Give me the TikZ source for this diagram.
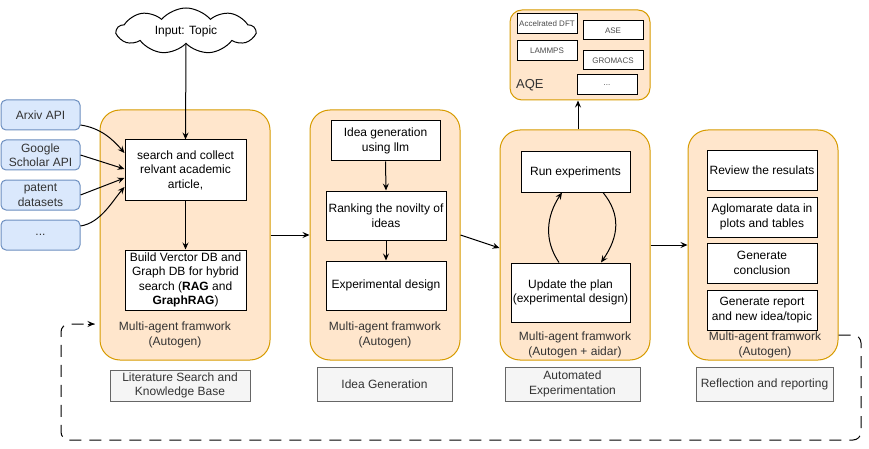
\documentclass[tikz,border=0pt]{standalone}
\usepackage{fontspec}
\setmainfont{Liberation Sans}
\usetikzlibrary{shapes.symbols,arrows.meta,calc}
\definecolor{orfill}{HTML}{FFE6CC}
\definecolor{orline}{HTML}{D79B00}
\definecolor{blfill}{HTML}{DAE8FC}
\definecolor{blline}{HTML}{6C8EBF}
\definecolor{grfill}{HTML}{F5F5F5}
\definecolor{grline}{HTML}{666666}
\definecolor{txtgray}{HTML}{333333}
\tikzset{
 every node/.style={font=\fontsize{12}{14.5}\selectfont, inner sep=1pt, align=center},
 container/.style={draw=orline, fill=orfill, rounded corners=20pt, line width=1pt},
 api/.style={draw=blline, fill=blfill, rounded corners=5pt, line width=1pt, text=txtgray, minimum width=79pt, minimum height=30pt},
 stepbox/.style={draw=black, fill=white, line width=1pt},
 tool/.style={draw=black, fill=white, line width=1pt, font=\fontsize{8}{10}\selectfont, text=black!70, minimum width=60pt},
 phase/.style={draw=grline, fill=grfill, line width=1pt, text=txtgray},
 lab/.style={text=txtgray},
 arr/.style={-{Stealth[length=7pt,width=6pt,inset=2.5pt]}, line width=1pt},
}
\begin{document}
\begin{tikzpicture}[x=1pt,y=-1pt]
\useasboundingbox (0,0) rectangle (869,449);
% containers
\node[container, minimum width=170pt, minimum height=250pt] (c1) at (185,235) {};
\node[container, minimum width=150pt, minimum height=250pt] (c2) at (385,235) {};
\node[container, minimum width=150pt, minimum height=230pt] (c3) at (575,245) {};
\node[container, minimum width=150pt, minimum height=230pt] (c4) at (763,245) {};
\node[container, rounded corners=12pt, minimum width=140pt, minimum height=90pt] (aqe) at (580,55) {};
% cloud
\node[cloud, cloud puffs=9, cloud puff arc=100, aspect=3.2, draw, fill=white, line width=1pt, minimum width=138pt, minimum height=46pt, inner sep=0pt] (cloud) at (186,31) {Input: Topic};
% APIs
\node[api] (api1) at (40.5,115) {Arxiv API};
\node[api] (api2) at (40.5,155) {Google\\Scholar API};
\node[api] (api3) at (40.5,195) {patent\\datasets};
\node[api] (api4) at (40.5,235) {...};
% container 1
\node[stepbox, minimum width=121pt, minimum height=60pt] (search) at (185.5,170) {search and collect\\relvant academic\\article,};
\node[stepbox, minimum width=121pt, minimum height=60pt] (build) at (185.5,280) {Build Verctor DB and\\Graph DB for hybrid\\search (\textbf{RAG} and\\\textbf{GraphRAG})};
\node[lab] (lab1) at (175,335) {Multi-agent framwork\\(Autogen)};
% container 2
\node[stepbox, minimum width=109pt, minimum height=40pt] (idea) at (385.5,141) {Idea generation\\using llm};
\node[stepbox, minimum width=120pt, minimum height=49pt] (rank) at (386,215.5) {Ranking the novilty of\\ideas};
\node[stepbox, minimum width=120pt, minimum height=49pt] (exp) at (386,285.5) {Experimental design};
\node[lab] (lab2) at (385,335) {Multi-agent framwork\\(Autogen)};
% container 3
\node[stepbox, minimum width=109pt, minimum height=40pt] (run) at (575.5,172) {Run experiments};
\node[stepbox, minimum width=119pt, minimum height=59pt] (upd) at (570.5,292.5) {Update the plan\\(experimental design)};
\node[lab] (lab3) at (575,345) {Multi-agent framwork\\(Autogen + aidar)};
% container 4
\node[stepbox, minimum width=110pt, minimum height=39pt] (rev) at (762,170.5) {Review the resulats};
\node[stepbox, minimum width=110pt, minimum height=40pt] (agl) at (762,217) {Aglomarate data in\\plots and tables};
\node[stepbox, minimum width=110pt, minimum height=40pt] (conc) at (762,263) {Generate\\conclusion};
\node[stepbox, minimum width=110pt, minimum height=40pt] (rep) at (762,310) {Generate report\\and new idea/topic};
\node[lab] (lab4) at (765,345) {Multi-agent framwork\\(Autogen)};
% AQE
\node[tool, minimum height=20pt] (dft) at (547,24) {Accelrated DFT};
\node[tool, minimum height=19pt] (ase) at (613,30.5) {ASE};
\node[tool, minimum height=20pt] (lam) at (547,51) {LAMMPS};
\node[tool, minimum height=19pt] (gro) at (613,60.5) {GROMACS};
\node[tool, minimum height=20pt] (dots) at (607,85) {...};
\node[anchor=west, font=\fontsize{13}{15}\selectfont, text=txtgray] (aqelab) at (515,85) {AQE};
% phases
\node[phase, minimum width=140pt, minimum height=31pt] (ph1) at (180,385.5) {Literature Search and\\Knowledge Base};
\node[phase, minimum width=135pt, minimum height=34pt] (ph2) at (384.5,384) {Idea Generation};
\node[phase, minimum width=135pt, minimum height=34pt] (ph3) at (572.5,384) {Automated\\Experimentation};
\node[phase, minimum width=137pt, minimum height=34pt] (ph4) at (764.5,384) {Reflection and reporting};
% arrows
\draw[arr] (cloud.south) -- (search.north);
\draw[arr] (search.south) -- (build.north);
\draw[arr] ([yshift=-10pt]api1.east) .. controls +(20,3) and +(-12,-14) .. ([yshift=17pt]search.west);
\draw[arr] (api2.east) -- ([yshift=1pt]search.west);
\draw[arr] (api3.east) -- ([yshift=-8pt]search.west);
\draw[arr] ([yshift=9pt]api4.east) .. controls +(20,-3) and +(-12,14) .. ([yshift=-17pt]search.west);
\draw[arr] (idea.south) -- (rank.north);
\draw[arr] (rank.south) -- (exp.north);
\draw[arr] (c1.east) -- (c2.west);
\draw[arr] (c2.east) -- ([yshift=-3pt]c3.west);
\draw[arr] (c3.east) -- (c4.west);
\draw[arr] ([xshift=3pt]c3.north) -- ([xshift=-2pt]aqe.south);
\draw[arr] ([xshift=-11.5pt]upd.north) .. controls +(-15,-22) and +(-16,24) .. ([xshift=-13.5pt]run.south);
\draw[arr] ([xshift=27.5pt]run.south) .. controls +(18,22) and +(18,-26) .. ([xshift=30.5pt]upd.north);
% feedback loop
\coordinate (lpA) at (861,335);
\coordinate (lpB) at (861,440);
\coordinate (lpC) at (61,440);
\coordinate (lpD) at (61,324);
\draw[line width=1pt, dash pattern=on 12pt off 8pt, rounded corners=8pt] ([yshift=-90pt]c4.east) -- (lpA) -- (lpB) -- (lpC) -- (lpD) -- ([xshift=-5pt,yshift=-89pt]c1.west);
\draw[arr] ([xshift=-12pt,yshift=-89pt]c1.west) -- ([xshift=-5pt,yshift=-89pt]c1.west);
\end{tikzpicture}
\end{document}
